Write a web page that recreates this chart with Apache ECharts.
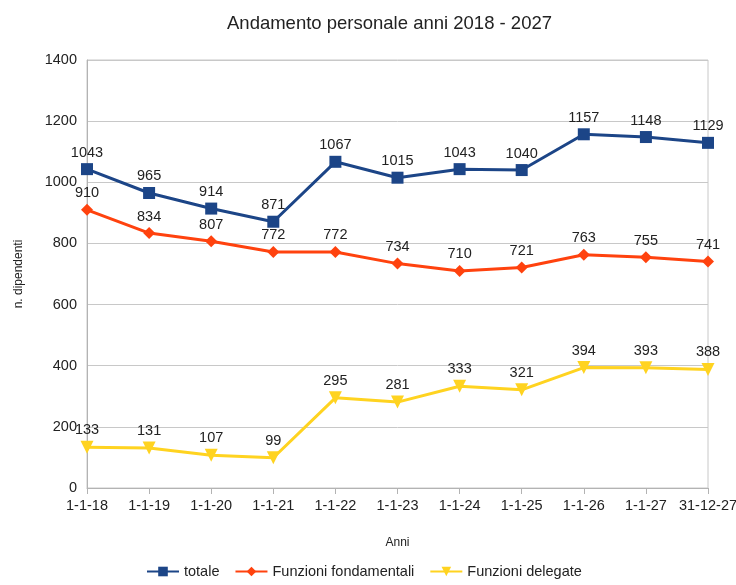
<!DOCTYPE html>
<html><head><meta charset="utf-8">
<script src="https://cdn.jsdelivr.net/npm/echarts@6/dist/echarts.min.js"></script>
<style>html,body{margin:0;padding:0;background:#fff}#c{width:736px;height:585px}</style>
</head><body><div id="c"></div>
<script>
const categories = ['1-1-18','1-1-19','1-1-20','1-1-21','1-1-22','1-1-23','1-1-24','1-1-25','1-1-26','1-1-27','31-12-27'];
const totale = [1043,965,914,871,1067,1015,1043,1040,1157,1148,1129];
const fondamentali = [910,834,807,772,772,734,710,721,763,755,741];
const delegate = [133,131,107,99,295,281,333,321,394,393,388];
const yTicks = [0,200,400,600,800,1000,1200,1400];

const font = 'Liberation Sans, Arial, sans-serif';
const chart = echarts.init(document.getElementById('c'), null, {renderer:'canvas'});
function mk(name, data, color, symbol, size, rot){
  return {name, type:'line', data, symbol, symbolSize:size, symbolRotate:rot||0, showAllSymbol:true,
    lineStyle:{color, width:3}, itemStyle:{color},
    label:{show:true, position:'top', distance:3, color:'#222', fontSize:14.5, fontFamily:font},
    animation:false};
}
chart.setOption({
  animation:false,
  title:{text:'Andamento personale anni 2018 - 2027', left:222, top:9,
    textStyle:{fontFamily:font, fontWeight:'normal', fontSize:18.5, color:'#222'}},
  grid:{left:87, right:28, top:60, bottom:97, show:true, borderColor:'#c8c8c8', borderWidth:1, outerBoundsMode:'none', containLabel:false},
  xAxis:{type:'category', data:categories, boundaryGap:false, name:'Anni', nameLocation:'middle', nameGap:49,
    nameTextStyle:{fontFamily:font, fontSize:12, color:'#222'},
    axisLine:{lineStyle:{color:'#b3b3b3'}}, axisTick:{show:true, alignWithLabel:true, length:6, lineStyle:{color:'#b3b3b3'}},
    axisLabel:{fontFamily:font, fontSize:14.5, color:'#222', margin:10, interval:0},
    splitLine:{show:false}},
  yAxis:{type:'value', min:yTicks[0], max:yTicks[yTicks.length-1], interval:200, name:'n. dipendenti', nameLocation:'middle', nameGap:62,
    nameTextStyle:{fontFamily:font, fontSize:12, color:'#222'},
    axisLine:{show:true, lineStyle:{color:'#b3b3b3'}}, axisTick:{show:false},
    axisLabel:{fontFamily:font, fontSize:14.5, color:'#222', margin:10, formatter: v => String(v)},
    splitLine:{lineStyle:{color:'#c8c8c8'}}},
  legend:{top:559, left:141, itemWidth:32, itemHeight:12, itemGap:15,
    textStyle:{fontFamily:font, fontSize:14.5, color:'#222'},
    data:['totale','Funzioni fondamentali','Funzioni delegate']},
  series:[
    mk('totale', totale, '#1c4587', 'rect', 12),
    mk('Funzioni fondamentali', fondamentali, '#ff420e', 'diamond', 12),
    mk('Funzioni delegate', delegate, '#ffd320', 'triangle', 13, 180)
  ]
});
</script></body></html>
